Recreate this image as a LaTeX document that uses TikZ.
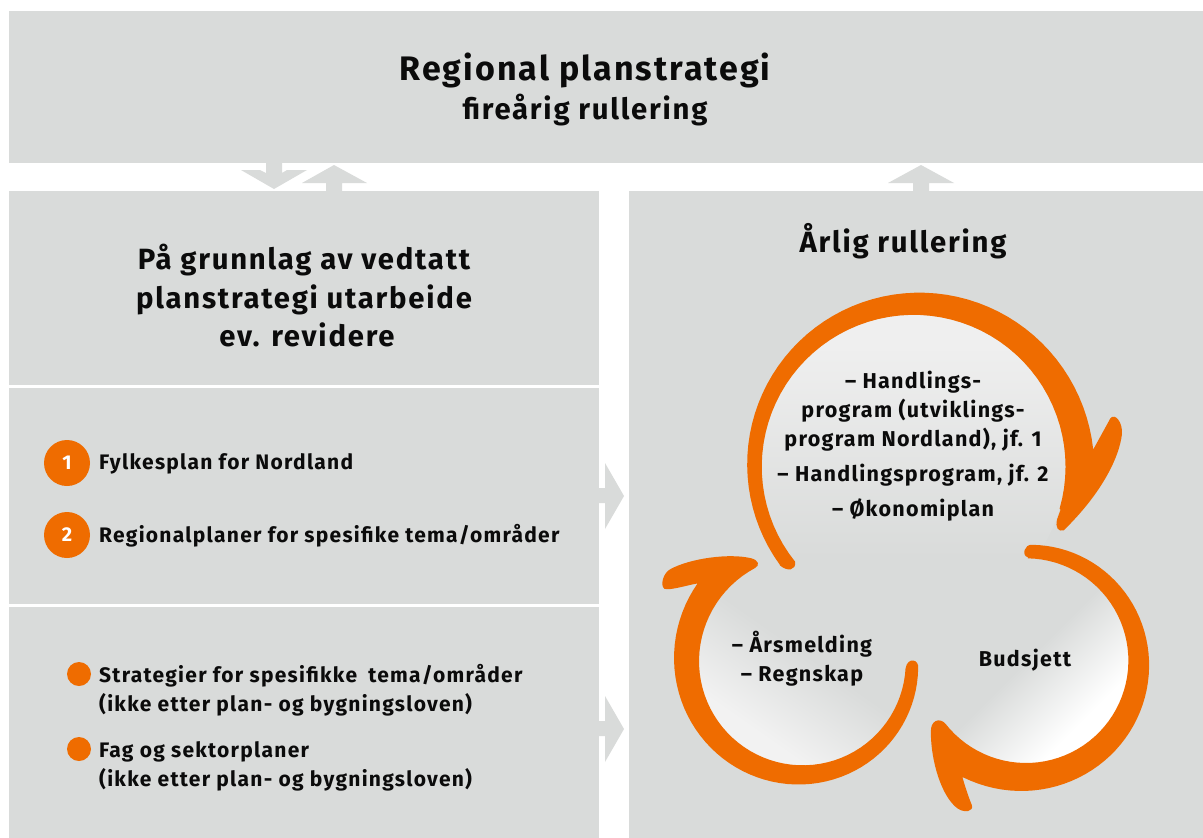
\documentclass[tikz,border=0pt]{standalone}
\usepackage{fontspec}
\setmainfont{Fira Sans}[LetterSpace=6]
\definecolor{panel}{HTML}{D9DBDA}
\definecolor{orng}{HTML}{EF6C00}
\definecolor{ink}{HTML}{0B0B0B}
\definecolor{lighttop}{HTML}{EFEFEF}
\definecolor{lightleft}{HTML}{F2F2F2}
\pgfdeclareverticalshading{topshade}{100bp}{color(0bp)=(panel); color(35bp)=(panel); color(70bp)=(lighttop); color(100bp)=(lighttop)}
\pgfdeclareverticalshading{rightshade}{100bp}{color(0bp)=(white); color(30bp)=(white); color(50bp)=(panel); color(100bp)=(panel)}
\pgfdeclareverticalshading{leftshade}{100bp}{color(0bp)=(lightleft); color(30bp)=(lightleft); color(52bp)=(panel); color(100bp)=(panel)}
\tikzset{
  panelbox/.style={fill=panel,draw=none},
  blockarrow/.style={fill=panel,draw=none},
  ringarrow/.style={fill=orng,draw=none},
  bodytext/.style={font=\bfseries\fontsize{21}{29}\selectfont,text=ink,anchor=west,inner sep=0pt,align=left},
  headtext/.style={font=\bfseries\fontsize{29.3}{38.5}\selectfont,text=ink,inner sep=0pt,align=center},
  ringtext/.style={font=\bfseries\fontsize{21.5}{29}\selectfont,text=ink,inner sep=0pt,align=center},
  numdot/.style={circle,fill=orng,minimum size=46pt,inner sep=0pt,text=white,font=\bfseries\fontsize{20}{22}\selectfont},
  plaindot/.style={circle,fill=orng,minimum size=24pt,inner sep=0pt},
}
\begin{document}
\begin{tikzpicture}[x=1pt,y=-1pt]
\useasboundingbox (0,0) rectangle (1203,838);
\fill[white] (0,0) rectangle (1203,838);
% panels
\fill[panelbox] (9,11) rectangle (1203,163);
\fill[panelbox] (9,191) rectangle (599,385);
\fill[panelbox] (9,388) rectangle (599,604);
\fill[panelbox] (9,607) rectangle (599,838);
\fill[panelbox] (629,191) rectangle (1203,838);
% block arrows
\fill[blockarrow] (266,163) -- (282,163) -- (282,173) -- (287,170) -- (307,170) -- (274,189) -- (241,170) -- (260,170) -- (266,173) -- cycle;
\fill[blockarrow] (326,191) -- (342,191) -- (342,183) -- (367,183) -- (334,165) -- (302,183) -- (326,183) -- cycle;
\fill[blockarrow] (913,191) -- (929,191) -- (929,183) -- (954,183) -- (921,165) -- (888,183) -- (913,183) -- cycle;
\fill[blockarrow] (599,488) -- (605,488) -- (605,463) -- (624,496) -- (605,529) -- (605,503) -- (599,503) -- cycle;
\fill[blockarrow] (599,721) -- (605,721) -- (605,696) -- (624,729) -- (605,762) -- (605,736) -- (599,736) -- cycle;
% cycle diagram, drawn in the coordinates of the 563x558 crop
\begin{scope}[shift={(640,280)},x=.3591pt,y=-.3591pt]
\shade[shading=topshade] (762,520) circle[radius=423];
\shade[shading=rightshade,shading angle=45] (1075,1060) circle[radius=290];
\shade[shading=leftshade,shading angle=-35] (454,1065) circle[radius=290];
\fill[ringarrow]
  plot[variable=\t,domain=216:5,samples=60] ({772+(473+19*((216-\t)/211)*((216-\t)/211))*cos(\t)},{515-(473+19*((216-\t)/211)*((216-\t)/211))*sin(\t)})
  -- (1310,385) .. controls (1322,370) and (1345,395) .. (1342,430)
  .. controls (1335,490) and (1290,590) .. (1180,697)
  .. controls (1165,702) and (1155,690) .. (1162,665)
  .. controls (1165,655) and (1168,650) .. (1171,640)
  -- plot[variable=\t,domain=-16:218.7,samples=60] ({762+423*cos(\t)},{520-423*sin(\t)})
  .. controls (435,810) and (410,812) .. (390,795) -- cycle;
\fill[ringarrow]
  plot[variable=\t,domain=89:-142,samples=60] ({1075+285*cos(\t)},{1060-285*sin(\t)})
  .. controls (835,1218) and (808,1225) .. (810,1260)
  .. controls (810,1340) and (840,1440) .. (885,1472)
  .. controls (905,1485) and (930,1480) .. (924,1462)
  .. controls (915,1440) and (905,1410) .. (898,1385)
  -- plot[variable=\t,domain=-118:87,samples=60] ({1075+(323+46*(87-\t)/205)*cos(\t)},{1060-(323+46*(87-\t)/205)*sin(\t)})
  .. controls (1070,735) and (1062,768) .. (1080,772) -- cycle;
\fill[ringarrow]
  plot[variable=\t,domain=-3:-243,samples=60] ({454+(286+9*((-3-\t)/240)*((-3-\t)/240)*((-3-\t)/240))*cos(\t)},{1065-(286+9*((-3-\t)/240)*((-3-\t)/240)*((-3-\t)/240))*sin(\t)})
  .. controls (335,795) and (330,780) .. (310,775)
  .. controls (250,760) and (140,775) .. (85,805)
  .. controls (65,815) and (55,850) .. (68,860)
  .. controls (85,865) and (130,850) .. (160,845)
  -- plot[variable=\t,domain=-217:-3,samples=60] ({454+(321+46*(-3-\t)/214)*cos(\t)},{1065-(321+46*(-3-\t)/214)*sin(\t)})
  .. controls (778,1055) and (745,1050) .. (740,1080) -- cycle;
\end{scope}
% texts
\node[font=\bfseries\fontsize{34}{38}\selectfont,text=ink,inner sep=0pt] (title) at (585,70) {Regional planstrategi};
\node[font=\bfseries\fontsize{29.3}{32}\selectfont,text=ink,inner sep=0pt] (subtitle) at (585,110) {fireårig rullering};
\node[headtext] (grunnlag) at (304,296) {På grunnlag av vedtatt\\planstrategi utarbeide\\\hspace*{6pt}ev. revidere};
\node[headtext] (arlig) at (903,241) {Årlig rullering};
\node[numdot] (n1) at (67,463) {1};
\node[numdot] (n2) at (67,535) {2};
\node[bodytext] (fylke) at (99,464) {Fylkesplan for Nordland};
\node[bodytext] (regional) at (99,536) {Regionalplaner for spesifike tema/områder};
\node[plaindot] (d1) at (79,674) {};
\node[plaindot] (d2) at (79,749) {};
\node[bodytext] (strat) at (99,690) {Strategier for spesifikke\hspace{5pt} tema/områder\\(ikke etter plan- og bygningsloven)};
\node[bodytext] (fag) at (99,766) {Fag og sektorplaner\\(ikke etter plan- og bygningsloven)};
\node[ringtext] (hp) at (913,411) {– Handlings-\\program (utviklings-\\program Nordland), jf. 1};
\node[ringtext] (hp2) at (913,475) {– Handlingsprogram, jf. 2};
\node[ringtext] (oko) at (913,510) {– Økonomiplan};
\node[ringtext] (aars) at (802,659) {– Årsmelding\\– Regnskap};
\node[ringtext] (bud) at (1025,660) {Budsjett};
\end{tikzpicture}
\end{document}
